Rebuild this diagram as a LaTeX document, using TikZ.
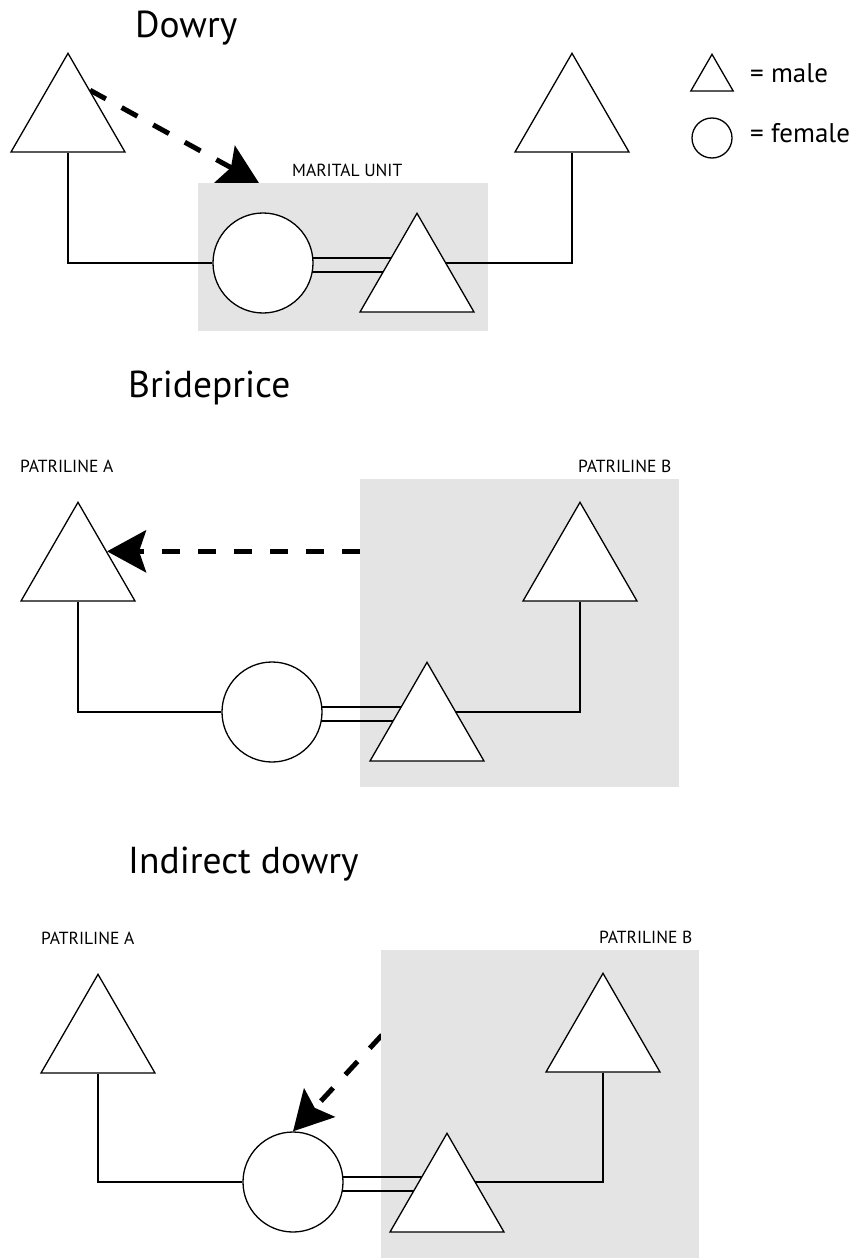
\documentclass[tikz,border=0pt]{standalone}
\usepackage{fontspec}
\setmainfont{PT Sans}
\usepackage{tikz}
\usetikzlibrary{positioning,shapes.geometric,arrows.meta,calc}
\definecolor{unitgrey}{RGB}{228,228,228}
\pgfdeclarelayer{gifts}
\pgfdeclarelayer{units}
\pgfdeclarelayer{links}
\pgfsetlayers{gifts,units,links,main}
\tikzset{
  male/.style={regular polygon,regular polygon sides=3,draw=black,fill=white,line width=1.3pt,minimum size=131.6pt,inner sep=0pt,anchor=corner 1},
  female/.style={circle,draw=black,fill=white,line width=1.3pt,minimum size=100pt,inner sep=0pt},
  kin/.style={line width=1.3pt,draw=black},
  gift/.style={line width=5pt,draw=black,dash pattern=on 18pt off 18pt,-{Stealth[length=39pt,width=42pt,inset=7pt]}},
  unitbox/.style={fill=unitgrey,inner sep=0pt,anchor=north west},
  heading/.style={anchor=base west,inner sep=0pt,font=\fontsize{37.5}{44}\selectfont},
  lineage/.style={anchor=base west,inner sep=0pt,font=\fontsize{17.5}{21}\selectfont},
  keytext/.style={anchor=base west,inner sep=0pt,font=\fontsize{27}{32}\selectfont}
}

\begin{document}
\begin{tikzpicture}[x=1pt,y=-1pt]
  \useasboundingbox (0,0) rectangle (859,1260);
  % key
  \node[male,minimum size=49pt] (km) at (712,53) {};
  \node[female,minimum size=40pt] (kf) at (712,138) {};
  \node[keytext] at (750,83) {= male};
  \node[keytext] at (750,143) {= female};

  % dowry
  \node[heading] at (135,38) {Dowry};
  \node[male] (a1) at (68,52) {};
  \node[male] (b1) at (572,52) {};
  \node[female] (w1) at (263,263) {};
  \node[male] (h1) at (417,212) {};
  \node[lineage] at (292,177) {MARITAL UNIT};
  \coordinate (t1) at (259,183);
  \begin{pgfonlayer}{units}
    \node[unitbox,minimum width=290pt,minimum height=148pt] (u1) at (198,183) {};
  \end{pgfonlayer}
  \begin{pgfonlayer}{gifts}
    \draw[gift] ($(a1.corner 1)!0.38!(a1.corner 3)$) -- (t1);
  \end{pgfonlayer}
  \begin{pgfonlayer}{links}
    \draw[kin] (a1.south) |- (w1);
    \draw[kin] (h1 |- w1) -| (b1.south);
    \draw[kin] ($(w1)+(0,-5)$) -- ($(h1 |- w1)+(0,-5)$);
    \draw[kin] ($(w1)+(0,9)$) -- ($(h1 |- w1)+(0,9)$);
  \end{pgfonlayer}

  % brideprice
  \node[heading] at (128,397) {Brideprice};
  \node[lineage] at (20,472) {PATRILINE A};
  \node[lineage] at (578,472) {PATRILINE B};
  \node[male] (a2) at (78,501) {};
  \node[male] (b2) at (580,501) {};
  \node[female] (w2) at (272,712) {};
  \node[male] (h2) at (427,661) {};
  \begin{pgfonlayer}{units}
    \node[unitbox,minimum width=319pt,minimum height=308pt] (u2) at (360,479) {};
  \end{pgfonlayer}
  \begin{pgfonlayer}{gifts}
    \draw[gift] (u2.west |- a2.side 3) -- (a2.side 3);
  \end{pgfonlayer}
  \begin{pgfonlayer}{links}
    \draw[kin] (a2.south) |- (w2);
    \draw[kin] (h2 |- w2) -| (b2.south);
    \draw[kin] ($(w2)+(0,-5)$) -- ($(h2 |- w2)+(0,-5)$);
    \draw[kin] ($(w2)+(0,9)$) -- ($(h2 |- w2)+(0,9)$);
  \end{pgfonlayer}

  % indirect dowry
  \node[heading] at (128,873) {Indirect dowry};
  \node[lineage] at (41,944) {PATRILINE A};
  \node[lineage] at (599,943) {PATRILINE B};
  \node[male] (a3) at (98,973) {};
  \node[male] (b3) at (603,972) {};
  \node[female] (w3) at (293,1182) {};
  \node[male] (h3) at (447,1132) {};
  \coordinate (g3) at (382,1035);
  \begin{pgfonlayer}{units}
    \node[unitbox,minimum width=318pt,minimum height=308pt] (u3) at (381,950) {};
  \end{pgfonlayer}
  \begin{pgfonlayer}{gifts}
    \draw[gift] (g3) -- (w3.north);
  \end{pgfonlayer}
  \begin{pgfonlayer}{links}
    \draw[kin] (a3.south) |- (w3);
    \draw[kin] (h3 |- w3) -| (b3.south);
    \draw[kin] ($(w3)+(0,-5)$) -- ($(h3 |- w3)+(0,-5)$);
    \draw[kin] ($(w3)+(0,9)$) -- ($(h3 |- w3)+(0,9)$);
  \end{pgfonlayer}
\end{tikzpicture}
\end{document}
